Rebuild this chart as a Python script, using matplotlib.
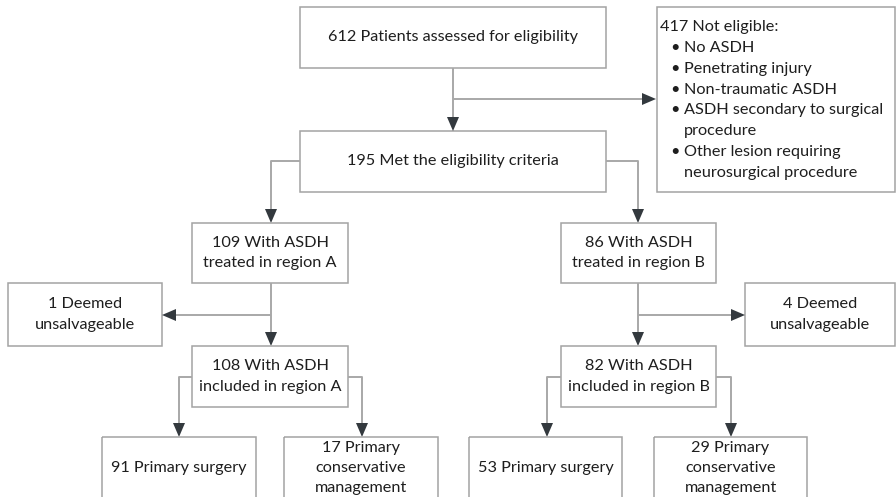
import matplotlib.pyplot as plt
from matplotlib.patches import Rectangle, Polygon

plt.rcParams['font.family'] = ['Lato', 'DejaVu Sans']

# node texts (counts and labels)
assessed = "612 Patients assessed for eligibility"
met = "195 Met the eligibility criteria"
not_eligible_title = "417 Not eligible:"
not_eligible_items = ["No ASDH", "Penetrating injury", "Non-traumatic ASDH",
                      "ASDH secondary to surgical", "procedure",
                      "Other lesion requiring", "neurosurgical procedure"]
bullet_flags = [True, True, True, True, False, True, False]
treated = ["109 With ASDH\ntreated in region A", "86 With ASDH\ntreated in region B"]
deemed = ["1 Deemed\nunsalvageable", "4 Deemed\nunsalvageable"]
included = ["108 With ASDH\nincluded in region A", "82 With ASDH\nincluded in region B"]
surgery = ["91 Primary surgery", "53 Primary surgery"]
conservative = ["17 Primary\nconservative\nmanagement", "29 Primary\nconservative\nmanagement"]

W, H = 896, 497
fig = plt.figure(figsize=(W / 100, H / 100), dpi=100)
ax = fig.add_axes([0, 0, 1, 1])
ax.set_xlim(0, W)
ax.set_ylim(H, 0)
ax.axis('off')

EDGE = '#a3a3a3'
LINE = '#a8a8a8'
HEAD = '#33393e'
TXT = '#1e1e1e'
FS = 11.7


def box(x0, y0, x1, y1, text=None, ty=None):
    ax.add_patch(Rectangle((x0, y0), x1 - x0, y1 - y0, fill=False,
                           edgecolor=EDGE, lw=1.1))
    if text is not None:
        cy = (y0 + y1) / 2 if ty is None else ty
        ax.text((x0 + x1) / 2, cy, text, ha='center', va='center',
                fontsize=FS, color=TXT, linespacing=1.55)


def arrow(pts):
    xs = [p[0] for p in pts]
    ys = [p[1] for p in pts]
    (xa, ya), (xb, yb) = pts[-2], pts[-1]
    L, hw = 14, 6
    if xa == xb:
        d = 1 if yb > ya else -1
        tri = [(xb, yb), (xb - hw, yb - d * L), (xb + hw, yb - d * L)]
        ys[-1] = yb - d * L
    else:
        d = 1 if xb > xa else -1
        tri = [(xb, yb), (xb - d * L, yb - hw), (xb - d * L, yb + hw)]
        xs[-1] = xb - d * L
    ax.plot(xs, ys, color=LINE, lw=1.4, solid_capstyle='butt')
    ax.add_patch(Polygon(tri, closed=True, color=HEAD, lw=0))


# top part
box(300, 7, 606, 68, assessed)
box(300, 131, 606, 192, met)
box(657, 7, 895, 192)
arrow([(453, 68), (453, 131)])
arrow([(453, 99), (656, 99)])

ax.text(660, 27, not_eligible_title, ha='left', va='center',
        fontsize=FS, color=TXT)
for i, (item, b) in enumerate(zip(not_eligible_items, bullet_flags)):
    y = 48 + i * 20.8
    if b:
        ax.text(675, y, "\u2022", ha='center', va='center', fontsize=FS, color=TXT)
    ax.text(684, y, item, ha='left', va='center', fontsize=FS, color=TXT)

# branches
centers = [271, 638]
branch_x = [(192, 348), (561, 716)]
deemed_box = [(8, 162), (745, 895)]
leaf_boxes = [[(102, 256), (284, 438)], [(469, 622), (654, 807)]]
leaf_drop = [[179, 362], [547, 731]]

arrow([(300, 161), (271, 161), (271, 223)])
arrow([(606, 161), (638, 161), (638, 223)])

for k in range(2):
    cx = centers[k]
    x0, x1 = branch_x[k]
    box(x0, 223, x1, 283, treated[k])
    dx0, dx1 = deemed_box[k]
    box(dx0, 283, dx1, 346, deemed[k])
    arrow([(cx, 283), (cx, 346)])
    tip = dx1 if k == 0 else dx0
    arrow([(cx, 315), (tip, 315)])
    box(x0, 346, x1, 407, included[k])
    lx, rx = leaf_drop[k]
    arrow([(x0, 377), (lx, 377), (lx, 437)])
    arrow([(x1, 377), (rx, 377), (rx, 437)])
    (a0, a1), (b0, b1) = leaf_boxes[k]
    box(a0, 437, a1, 500, surgery[k], ty=468)
    box(b0, 437, b1, 500, conservative[k], ty=468)

fig.savefig('out.png', dpi=100, facecolor='white')
